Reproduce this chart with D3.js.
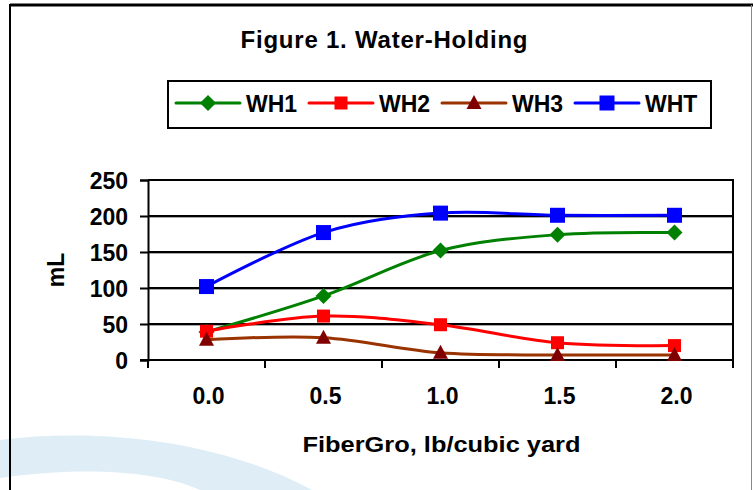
<html>
<script src='https://d3js.org/d3.v7.min.js'></script>
<style>
    body { margin: 0; background: #fff; }
    text { font-family: Arial, "Liberation Sans", sans-serif; font-weight: bold; fill: #000; }
</style>
<body onload='init()'>
<svg width=753 height=490 id="chart1"></svg>
<script>
    // values
    var categories = ["0.0", "0.5", "1.0", "1.5", "2.0"];
    var seriesNames = ["WH1", "WH2", "WH3", "WHT"];
    var wh1 = [39, 89, 152, 174, 177];
    var wh2 = [40, 61, 49, 24, 20];
    var wh3 = [28, 31, 10, 7, 7];
    var wht = [102, 177, 204, 201, 201];
    var yTicks = [0, 50, 100, 150, 200, 250];

    function init() {
        var svg = d3.select("svg");

        // light blue swoosh in the page background
        svg.append("path")
            .attr("d", "M0,440 C110,426 230,445 312,490 L200,490 C150,468 70,468 0,478 Z")
            .attr("fill", "#deedf6");

        // outer chart border
        svg.append("line").attr("x1", 10).attr("x2", 753).attr("y1", 5).attr("y2", 5)
            .attr("stroke", "#000").attr("stroke-width", 3);
        svg.append("line").attr("x1", 10).attr("x2", 10).attr("y1", 4).attr("y2", 490)
            .attr("stroke", "#000").attr("stroke-width", 2);
        svg.append("line").attr("x1", 751.5).attr("x2", 751.5).attr("y1", 5).attr("y2", 490)
            .attr("stroke", "#888").attr("stroke-width", 1);

        var left = 148, right = 733, top = 180, bottom = 360;

        var xScale = d3.scaleBand().domain(categories).range([left, right]);
        var yScale = d3.scaleLinear().domain([0, 250]).range([bottom, top]);

        var g = svg.append("g");

        // gridlines
        var inner = yTicks.filter(function (d) { return d > 0 && d < 250; });
        g.selectAll(".grid")
            .data(inner)
            .enter().append("line")
            .attr("x1", left).attr("x2", right)
            .attr("y1", function (d) { return yScale(d) + 1.5; })
            .attr("y2", function (d) { return yScale(d) + 1.5; })
            .attr("stroke", "#aaa").attr("stroke-width", 1);
        g.selectAll(".grid2")
            .data(inner)
            .enter().append("line")
            .attr("x1", left).attr("x2", right)
            .attr("y1", function (d) { return yScale(d); })
            .attr("y2", function (d) { return yScale(d); })
            .attr("stroke", "#000").attr("stroke-width", 2);

        // plot box top and right
        g.append("line").attr("x1", left).attr("x2", right + 1).attr("y1", top).attr("y2", top)
            .attr("stroke", "#000").attr("stroke-width", 2);
        g.append("line").attr("x1", right).attr("x2", right).attr("y1", top).attr("y2", bottom)
            .attr("stroke", "#000").attr("stroke-width", 2);

        // y axis
        var yAxis = g.append("g")
            .attr("transform", "translate(" + left + ",0)")
            .call(d3.axisLeft(yScale).tickValues(yTicks).tickSize(8).tickPadding(12));
        yAxis.select(".domain").attr("stroke-width", 2);
        yAxis.selectAll(".tick line").attr("stroke-width", 2);
        yAxis.selectAll("text").style("font-size", "23px").attr("dy", "0.36em");

        // x axis (ticks on band boundaries)
        var xAxis = g.append("g")
            .attr("transform", "translate(0," + bottom + ")");
        xAxis.append("line").attr("x1", left - 8).attr("x2", right + 1).attr("y1", 0).attr("y2", 0)
            .attr("stroke", "#000").attr("stroke-width", 2);
        var bounds = categories.map(function (c) { return xScale(c); }).concat([right]);
        xAxis.selectAll(".xt").data(bounds).enter().append("line")
            .attr("x1", function (d) { return d; }).attr("x2", function (d) { return d; })
            .attr("y1", 0).attr("y2", 8)
            .attr("stroke", "#000").attr("stroke-width", 2);
        xAxis.selectAll(".xl").data(categories).enter().append("text")
            .attr("x", function (d) { return xScale(d) + xScale.bandwidth() / 2 + 2; })
            .attr("y", 44)
            .attr("text-anchor", "middle")
            .style("font-size", "23px")
            .text(function (d) { return d; });

        // axis titles
        svg.append("text")
            .attr("x", (left + right) / 2 + 1).attr("y", 452)
            .attr("text-anchor", "middle").style("font-size", "22px")
            .attr("textLength", 278).attr("lengthAdjust", "spacingAndGlyphs")
            .text("FiberGro, lb/cubic yard");
        svg.append("text")
            .attr("transform", "translate(64," + (top + bottom) / 2 + ") rotate(-90)")
            .attr("text-anchor", "middle").style("font-size", "23px")
            .text("mL");

        // title
        svg.append("text")
            .attr("x", 384).attr("y", 48)
            .attr("text-anchor", "middle").style("font-size", "24px")
            .attr("textLength", 287)
            .text("Figure 1. Water-Holding");

        var series = [
            { name: seriesNames[0], values: wh1, line: "#008000", fill: "#008000", shape: "diamond" },
            { name: seriesNames[1], values: wh2, line: "#ff0000", fill: "#ff0000", shape: "square", size: 13 },
            { name: seriesNames[2], values: wh3, line: "#993300", fill: "#800000", shape: "triangle" },
            { name: seriesNames[3], values: wht, line: "#0000ff", fill: "#0000ff", shape: "square", size: 15 }
        ];

        function drawMarker(sel, s, x, y) {
            if (s.shape === "diamond") {
                sel.append("path")
                    .attr("d", "M" + x + "," + (y - 8) + "L" + (x + 8) + "," + y + "L" + x + "," + (y + 8) + "L" + (x - 8) + "," + y + "Z")
                    .attr("fill", s.fill);
            } else if (s.shape === "square") {
                sel.append("rect")
                    .attr("x", x - s.size / 2).attr("y", y - s.size / 2)
                    .attr("width", s.size).attr("height", s.size)
                    .attr("fill", s.fill);
            } else {
                sel.append("path")
                    .attr("d", "M" + x + "," + (y - 8) + "L" + (x + 7.5) + "," + (y + 6) + "L" + (x - 7.5) + "," + (y + 6) + "Z")
                    .attr("fill", s.fill);
            }
        }

        var line = d3.line()
            .x(function (d, i) { return xScale(categories[i]) + xScale.bandwidth() / 2; })
            .y(function (d) { return yScale(d); })
            .curve(d3.curveCardinal.tension(0));

        series.forEach(function (s) {
            g.append("path")
                .attr("d", line(s.values))
                .attr("fill", "none")
                .attr("stroke", s.line)
                .attr("stroke-width", 3);
        });
        series.forEach(function (s) {
            var mg = g.append("g");
            s.values.forEach(function (v, i) {
                drawMarker(mg, s, xScale(categories[i]) + xScale.bandwidth() / 2, yScale(v));
            });
        });

        // legend
        var lg = svg.append("g");
        lg.append("rect").attr("x", 168).attr("y", 81).attr("width", 543).attr("height", 47)
            .attr("fill", "#fff").attr("stroke", "#000").attr("stroke-width", 2);
        series.forEach(function (s, i) {
            var x0 = 176 + i * 133, yc = 103;
            lg.append("line").attr("x1", x0).attr("x2", x0 + 64).attr("y1", yc).attr("y2", yc)
                .attr("stroke", s.line).attr("stroke-width", 3).attr("stroke-linecap", "round");
            drawMarker(lg, s, x0 + 32, yc);
            lg.append("text").attr("x", x0 + 70).attr("y", yc + 9)
                .style("font-size", "23px").text(s.name);
        });
    }
</script>
</body>
</html>
